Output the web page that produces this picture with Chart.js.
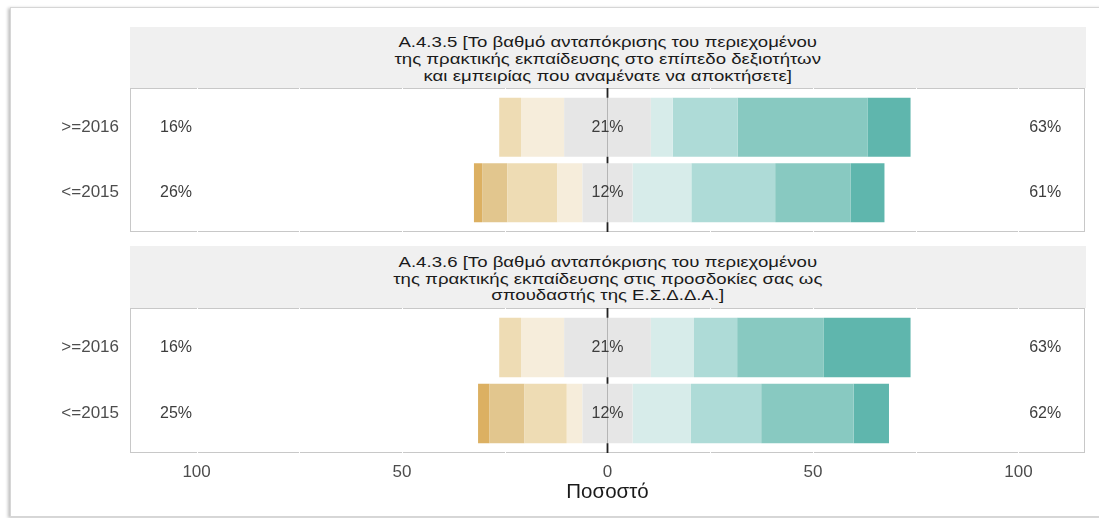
<!DOCTYPE html>
<html>
<head>
<meta charset="utf-8">
<script src="https://cdn.jsdelivr.net/npm/chart.js@4.4.1/dist/chart.umd.min.js"></script>
<style>
  html, body { margin: 0; padding: 0; background: #fff; }
  body { width: 1099px; height: 518px; position: relative; overflow: hidden; font-family: "Liberation Sans", Arial, sans-serif; }
  #frame { position: absolute; left: 10px; top: 7px; width: 1200px; height: 508px; border: 1px solid #d6d6d6; box-shadow: -2px 1px 3px rgba(0,0,0,0.25); }
  .strip { position: absolute; left: 130px; width: 956px; background: #f0f0f0; color: #1a1a1a; font-size: 15.5px; line-height: 16.7px; text-align: center; display: flex; align-items: center; justify-content: center; box-sizing: border-box; padding-top: 4px; }
  .strip div { transform: scaleX(1.2); white-space: nowrap; }
  #strip1 { top: 27px; height: 61px; }
  #strip2 { top: 246px; height: 62px; }
  canvas { position: absolute; left: 0; }
  #chartA { top: 87px; }
  #chartB { top: 307px; }
</style>
</head>
<body>
<div id="frame"></div>
<div class="strip" id="strip1"><div>Α.4.3.5 [Το βαθμό ανταπόκρισης του περιεχομένου<br>της πρακτικής εκπαίδευσης στο επίπεδο δεξιοτήτων<br>και εμπειρίας που αναμένατε να αποκτήσετε]</div></div>
<div class="strip" id="strip2"><div>Α.4.3.6 [Το βαθμό ανταπόκρισης του περιεχομένου<br>της πρακτικής εκπαίδευσης στις προσδοκίες σας ως<br>σπουδαστής της Ε.Σ.Δ.Δ.Α.]</div></div>
<canvas id="chartA" width="1099" height="146"></canvas>
<canvas id="chartB" width="1099" height="211"></canvas>
<script>
// grupos (eixo y) e ticks do eixo x
const groups = ['>=2016', '<=2015'];
const xTicks = [-100, -50, 0, 50, 100];

// percentagens por nivel de resposta, do mais negativo ao mais positivo (9 niveis, o 5o e neutro)
const q435_ge2016 = [0, 0, 5.3, 10.5, 21.1, 5.3, 15.8, 31.6, 10.5];
const q435_le2015 = [2.0, 6.1, 12.2, 6.1, 12.2, 14.3, 20.4, 18.4, 8.2];
const q436_ge2016 = [0, 0, 5.3, 10.5, 21.1, 10.5, 10.5, 21.1, 21.1];
const q436_le2015 = [2.8, 8.5, 10.3, 3.8, 12.2, 14.2, 17.1, 22.5, 8.6];

// rotulos de percentagem (negativo / neutro / positivo)
const q435_low = ['16%', '26%'];
const q435_mid = ['21%', '12%'];
const q435_high = ['63%', '61%'];
const q436_low = ['16%', '25%'];
const q436_mid = ['21%', '12%'];
const q436_high = ['63%', '62%'];

const levelColors = ['#dcb062', '#e2c68e', '#eedcb4', '#f6eddb', '#e6e6e6', '#d7ecea', '#aedbd7', '#88c9c1', '#5fb6ad'];

const FONT = '"Liberation Sans", Arial, sans-serif';
const PAD = 6.5; // espaco extra do painel acima/abaixo das categorias

Chart.defaults.font.family = FONT;

function buildDatasets(rows) {
    const sets = [];
    const bar = (data, k) => ({
        data: data, backgroundColor: levelColors[k], borderWidth: 0,
        barPercentage: 0.9, categoryPercentage: 1, stack: 's'
    });
    // neutro dividido ao meio em torno do zero
    sets.push(bar(rows.map(r => -r[4] / 2), 4));
    sets.push(bar(rows.map(r => r[4] / 2), 4));
    for (let k = 3; k >= 0; k--) sets.push(bar(rows.map(r => -r[k]), k));
    for (let k = 5; k <= 8; k++) sets.push(bar(rows.map(r => r[k]), k));
    return sets;
}

const panelDecor = {
    id: 'panelDecor',
    beforeDatasetsDraw(chart) {
        const { ctx, chartArea: a, scales: { x } } = chart;
        const top = a.top - PAD, bottom = a.bottom + PAD;
        ctx.save();
        ctx.strokeStyle = '#c8c8c8';
        ctx.lineWidth = 1;
        ctx.strokeRect(a.left + 0.5, top + 0.5, a.right - a.left - 1, bottom - top - 1);
        // linhas de grade brancas (so aparecem sobre a borda)
        ctx.strokeStyle = '#ffffff';
        [-100, -75, -50, -25, 25, 50, 75, 100].forEach(v => {
            const px = Math.round(x.getPixelForValue(v)) + 0.5;
            ctx.beginPath();
            ctx.moveTo(px, top);
            ctx.lineTo(px, bottom);
            ctx.stroke();
        });
        // linha do zero
        const z = x.getPixelForValue(0);
        ctx.strokeStyle = '#222';
        ctx.lineWidth = 1.8;
        ctx.beginPath();
        ctx.moveTo(z, top);
        ctx.lineTo(z, bottom);
        ctx.stroke();
        ctx.restore();
    },
    afterDatasetsDraw(chart, args, opts) {
        const { ctx, scales: { x, y } } = chart;
        ctx.save();
        ctx.font = '16px ' + FONT;
        ctx.fillStyle = '#3d3d3d';
        ctx.textAlign = 'center';
        ctx.textBaseline = 'middle';
        groups.forEach((g, i) => {
            const py = y.getPixelForValue(i);
            ctx.fillText(opts.low[i], x.getPixelForValue(-105), py);
            ctx.fillText(opts.mid[i], x.getPixelForValue(0), py);
            ctx.fillText(opts.high[i], x.getPixelForValue(106.5), py);
        });
        ctx.restore();
    }
};

function makeChart(id, rows, labels, showX) {
    return new Chart(document.getElementById(id), {
        type: 'bar',
        data: { labels: groups, datasets: buildDatasets(rows) },
        plugins: [panelDecor],
        options: {
            indexAxis: 'y',
            responsive: false,
            animation: false,
            layout: { padding: { left: 0, right: 14, top: 7.5, bottom: showX ? 0 : 7.5 } },
            plugins: {
                legend: { display: false },
                tooltip: { enabled: false },
                panelDecor: labels
            },
            scales: {
                x: {
                    display: showX,
                    stacked: true,
                    min: -116.2,
                    max: 116.2,
                    afterBuildTicks: s => { s.ticks = xTicks.map(v => ({ value: v })); },
                    afterFit: s => {
                        s.height = showX ? 71.5 : 0;
                        s.paddingLeft = 0;
                        s.paddingRight = 0;
                    },
                    grid: { display: false, drawTicks: false },
                    border: { display: false },
                    ticks: {
                        padding: 16,
                        color: '#4d4d4d',
                        font: { size: 17 },
                        callback: v => Math.abs(v)
                    },
                    title: {
                        display: true,
                        text: 'Ποσοστό',
                        color: '#1a1a1a',
                        font: { size: 20.5 },
                        padding: { top: 0, bottom: 13 }
                    }
                },
                y: {
                    stacked: true,
                    afterFit: s => {
                        s.width = 130;
                        s.paddingTop = 0;
                        s.paddingBottom = 0;
                    },
                    grid: { display: false, drawTicks: false },
                    border: { display: false },
                    ticks: { padding: 11, color: '#4d4d4d', font: { size: 17 } }
                }
            }
        }
    });
}

makeChart('chartA', [q435_ge2016, q435_le2015], { low: q435_low, mid: q435_mid, high: q435_high }, false);
makeChart('chartB', [q436_ge2016, q436_le2015], { low: q436_low, mid: q436_mid, high: q436_high }, true);
</script>
</body>
</html>
